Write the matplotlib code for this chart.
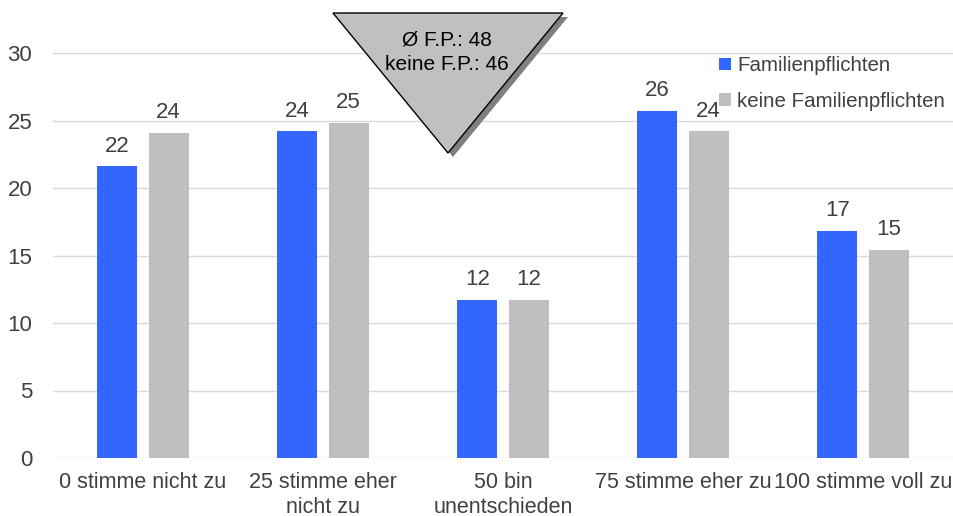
import matplotlib.pyplot as plt
import numpy as np
from matplotlib.patches import Polygon

plt.rcParams['font.family'] = ['Liberation Sans', 'DejaVu Sans']

categories = ["0 stimme nicht zu", "25 stimme eher\nnicht zu", "50 bin\nunentschieden",
              "75 stimme eher zu", "100 stimme voll zu"]
familienpflichten = [21.6, 24.2, 11.7, 25.7, 16.8]
keine_familienpflichten = [24.1, 24.8, 11.7, 24.2, 15.4]
mean_fp = 48
mean_keine_fp = 46

BLUE = "#3366FF"
GRAY = "#BFBFBF"
TEXT = "#404040"

W, H = 954, 516
fig = plt.figure(figsize=(W / 100, H / 100), dpi=100)
ax = fig.add_axes([53 / W, (H - 458) / H, 900 / W, 405 / H])

x = np.arange(len(categories))
off = 0.142
width = 0.222
b1 = ax.bar(x - off, familienpflichten, width, color=BLUE, label="Familienpflichten", zorder=3)
b2 = ax.bar(x + off, keine_familienpflichten, width, color=GRAY, label="keine Familienpflichten", zorder=3)

for bars, vals in ((b1, familienpflichten), (b2, keine_familienpflichten)):
    for rect, v in zip(bars, vals):
        ax.annotate(f"{v:.0f}", (rect.get_x() + rect.get_width() / 2, v),
                    xytext=(0, 7), textcoords="offset points", ha="center", va="bottom",
                    fontsize=16, color=TEXT)

ax.set_xlim(-0.5, 4.5)
ax.set_ylim(0, 30)
ax.set_yticks(range(0, 31, 5))
ax.set_xticks(x)
ax.set_xticklabels(categories, fontsize=15.5, color=TEXT, linespacing=1.25)
ax.tick_params(axis="y", labelsize=16, colors=TEXT, length=0, pad=15)
ax.tick_params(axis="x", length=0, pad=10)
ax.grid(axis="y", color="#D9D9D9", linewidth=1, zorder=0)
for s in ax.spines.values():
    s.set_visible(False)

leg = ax.legend(loc="upper left", bbox_to_anchor=(701 / W, 1 - 38 / H), bbox_transform=fig.transFigure,
                frameon=False, fontsize=14.8, handlelength=0.55, handleheight=0.55,
                handletextpad=0.3, labelspacing=0.8)
for t in leg.get_texts():
    t.set_color(TEXT)

# averages shown in an inverted triangle with a drop shadow
def fig_pts(pts):
    return [(px / W, 1 - py / H) for px, py in pts]

tri = [(333, 13), (563, 13), (448, 153)]
shadow = Polygon(fig_pts([(px + 5, py + 4) for px, py in tri]), closed=True,
                 transform=fig.transFigure, facecolor="#808080", edgecolor="none", zorder=5)
face = Polygon(fig_pts(tri), closed=True, transform=fig.transFigure,
               facecolor="#C0C0C0", edgecolor="black", linewidth=1, zorder=6)
fig.patches.extend([shadow, face])
fig.text(447 / W, 1 - 40 / H, f"Ø F.P.: {mean_fp}", ha="center", va="center",
         fontsize=15, color="black", zorder=7)
fig.text(447 / W, 1 - 64 / H, f"keine F.P.: {mean_keine_fp}", ha="center", va="center",
         fontsize=15, color="black", zorder=7)

fig.savefig("out.png", dpi=100)
